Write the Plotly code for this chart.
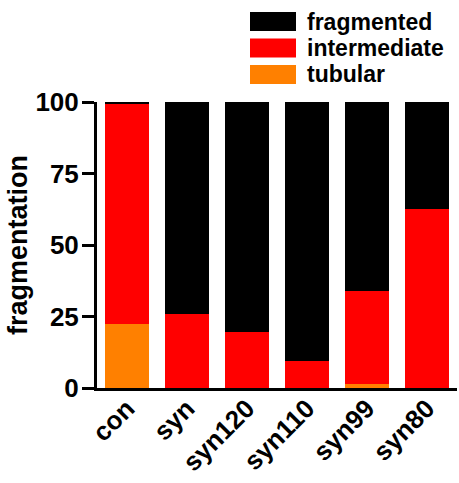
import plotly.graph_objects as go

# Mitochondrial morphology per condition (percent of cells)
categories = ["con", "syn", "syn120", "syn110", "syn99", "syn80"]
tubular = [22.5, 0.0, 0.0, 0.0, 1.5, 0.0]
intermediate = [76.7, 26.0, 19.5, 9.5, 32.5, 62.5]
fragmented = [0.8, 74.0, 80.5, 90.5, 66.0, 37.5]
y_ticks = [0, 25, 50, 75, 100]

series_names = ["fragmented", "intermediate", "tubular"]
series_colors = {"fragmented": "#000000", "intermediate": "#FF0000", "tubular": "#FF8000"}

FONT = "Liberation Sans, Arial, sans-serif"

fig = go.Figure()
# stacked bottom-to-top: tubular, intermediate, fragmented
for name, vals in [("tubular", tubular), ("intermediate", intermediate), ("fragmented", fragmented)]:
    fig.add_trace(go.Bar(x=categories, y=vals, name=name,
                         marker=dict(color=series_colors[name], line=dict(width=0)),
                         showlegend=False))

# legend drawn as wide swatches with labels
W, H = 459, 483
ml, mr, mt, mb = 97, 2, 102, 95
pw, ph = W - ml - mr, H - mt - mb

def px_x(px):
    return (px - ml) / pw

def px_y(py):
    return (H - mb - py) / ph

for i, name in enumerate(series_names):
    top = 12 + i * 26.5
    fig.add_shape(type="rect", xref="paper", yref="paper",
                  x0=px_x(250), x1=px_x(296), y0=px_y(top + 19), y1=px_y(top),
                  fillcolor=series_colors[name], line=dict(width=0))
    fig.add_annotation(xref="paper", yref="paper", x=px_x(305), y=px_y(top + 9.5),
                       text=name, showarrow=False, xanchor="left", yanchor="middle",
                       font=dict(family=FONT, size=23, color="#000000", weight="bold"))

fig.update_layout(
    width=W, height=H,
    margin=dict(l=ml, r=mr, t=mt, b=mb),
    barmode="stack", bargap=0.27,
    plot_bgcolor="white", paper_bgcolor="white",
    font=dict(family=FONT, color="#000000"),
    xaxis=dict(range=[-0.5, 5.5], showline=True, linewidth=3, linecolor="#000000",
               ticks="", tickangle=-45, automargin=False, ticklabelstandoff=-8,
               tickfont=dict(family=FONT, size=26, color="#000000", weight="bold"),
               showgrid=False, zeroline=False),
    yaxis=dict(range=[0, 100], tickvals=y_ticks, showline=True, linewidth=3,
               linecolor="#000000", ticks="outside", ticklen=12, tickwidth=3,
               tickcolor="#000000", automargin=False, ticklabelstandoff=-2,
               tickfont=dict(family=FONT, size=26, color="#000000", weight="bold"),
               title=dict(text="fragmentation", standoff=0,
                          font=dict(family=FONT, size=27, color="#000000", weight="bold")),
               showgrid=False, zeroline=False),
)

fig.write_html("out.html")
